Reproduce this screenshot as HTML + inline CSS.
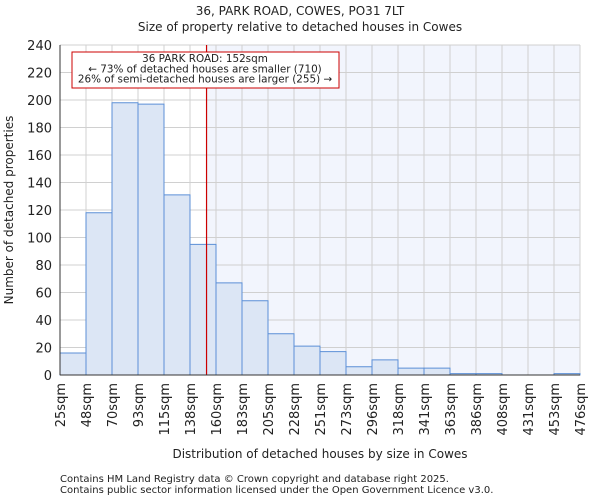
<!DOCTYPE html>
<html><head><meta charset="utf-8"><style>
body{margin:0;background:#fff;font-family:"DejaVu Sans","Liberation Sans",sans-serif;}
svg text{font-family:"DejaVu Sans","Liberation Sans",sans-serif;fill:#222;}
</style></head><body>
<svg width="600" height="500" xmlns="http://www.w3.org/2000/svg">
<g id="plot"></g>
<text x="300" y="15" text-anchor="middle" font-size="12">36, PARK ROAD, COWES, PO31 7LT</text>
<text x="300" y="31" text-anchor="middle" font-size="12">Size of property relative to detached houses in Cowes</text>
<text x="320" y="458" text-anchor="middle" font-size="12">Distribution of detached houses by size in Cowes</text>
<text transform="translate(13,210) rotate(-90)" text-anchor="middle" font-size="12">Number of detached properties</text>
<text x="60" y="482" font-size="10" fill="#444">Contains HM Land Registry data © Crown copyright and database right 2025.</text>
<text x="60" y="493" font-size="10" fill="#444">Contains public sector information licensed under the Open Government Licence v3.0.</text>
</svg>
<script>
const edges=[25,48,70,93,115,138,160,183,205,228,251,273,296,318,341,363,386,408,431,453,476];
const counts=[16,118,198,197,131,95,67,54,30,21,17,6,11,5,5,1,1,0,0,1];
const yTicks=[0,20,40,60,80,100,120,140,160,180,200,220,240];
const marker=152;
const NS="http://www.w3.org/2000/svg";
const L=60,R=580,T=45,B=375,yMax=240;
const g=document.getElementById('plot');
const nb=counts.length;
const xi=i=>L+i*(R-L)/nb;
const xv=v=>{for(let i=0;i<nb;i++){if(v<=edges[i+1])return xi(i)+(v-edges[i])/(edges[i+1]-edges[i])*(R-L)/nb;}return R;};
const y=v=>B-v/yMax*(B-T);
function mk(t,a){const e=document.createElementNS(NS,t);for(const k in a)e.setAttribute(k,a[k]);g.appendChild(e);return e;}
const mx=xv(marker);
let e=mk('rect',{x:mx,y:T,width:R-mx,height:B-T,fill:'#f2f5fd'});


yTicks.forEach(t=>{
 let l=mk('line',{x1:L,x2:R,y1:y(t),y2:y(t),stroke:'#d0d0d0','stroke-width':1});
 
 
 let tx=mk('text',{x:L-8,y:y(t)+5,'text-anchor':'end','font-size':13});tx.textContent=t;
 
 
});
edges.forEach((v,i)=>{
 let l=mk('line',{x1:xi(i),x2:xi(i),y1:T,y2:B,stroke:'#d0d0d0','stroke-width':1});
 
 
 let tx=mk('text',{transform:`translate(${xi(i)+5},${B+8}) rotate(-90)`,'text-anchor':'end','font-size':13});tx.textContent=v+'sqm';
 
 
});
counts.forEach((c,i)=>{
 if(c<=0)return;
 let r=mk('rect',{x:xi(i),y:y(c),width:(R-L)/nb,height:B-y(c),fill:'#dce6f5',stroke:'#5b8fd6','stroke-width':1});
 
 
});
e=mk('line',{x1:mx,x2:mx,y1:T,y2:B,stroke:'#cc0000','stroke-width':1.2});


e=mk('rect',{x:72,y:52,width:267,height:36,fill:'#fff',stroke:'#cc0000','stroke-width':1});


const lines=['36 PARK ROAD: 152sqm','← 73% of detached houses are smaller (710)','26% of semi-detached houses are larger (255) →'];
lines.forEach((s,i)=>{let t=mk('text',{x:205,y:62+i*10.3,'text-anchor':'middle','font-size':10.4});t.textContent=s;
 
 });
e=mk('line',{x1:L,x2:L,y1:T,y2:B,stroke:'#333'});


e=mk('line',{x1:L,x2:R,y1:B,y2:B,stroke:'#333'});


</script>
</body></html>
